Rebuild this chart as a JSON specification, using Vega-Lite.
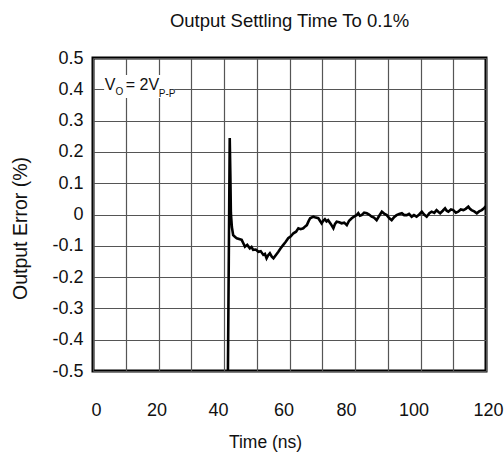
{
  "$schema": "https://vega.github.io/schema/vega-lite/v6.json",
  "autosize": "none",
  "width": 393,
  "height": 313,
  "padding": {"left": 93, "top": 58, "right": 18, "bottom": 84},
  "background": "white",
  "config": {
    "font": "Liberation Sans",
    "view": {"stroke": "black", "strokeWidth": 3},
    "axis": {
      "gridColor": "#555555",
      "gridWidth": 1.2,
      "gridOpacity": 1,
      "domain": false,
      "ticks": false,
      "tickSize": 0,
      "tickCount": 30,
      "labelFont": "Liberation Sans",
      "labelFontSize": 18,
      "labelColor": "#111111",
      "titleFont": "Liberation Sans",
      "titleFontSize": 18,
      "titleFontWeight": "normal",
      "titleColor": "#111111"
    }
  },
  "title": {
    "text": "Output Settling Time To 0.1%",
    "font": "Liberation Sans",
    "fontSize": 18.5,
    "fontWeight": "normal",
    "color": "#111111",
    "anchor": "middle",
    "offset": 19
  },
  "datasets": {
    "curve": [
      {"t": 41.2, "e": -0.5}, {"t": 41.75, "e": 0.244}, {"t": 41.95, "e": 0.12}, {"t": 42.1, "e": 0.005},
      {"t": 42.4, "e": -0.04}, {"t": 42.8, "e": -0.066}, {"t": 43.4, "e": -0.072}, {"t": 43.9, "e": -0.076},
      {"t": 44.6, "e": -0.078}, {"t": 45.4, "e": -0.081}, {"t": 45.9, "e": -0.092}, {"t": 46.4, "e": -0.103},
      {"t": 47.1, "e": -0.097}, {"t": 47.9, "e": -0.108}, {"t": 48.4, "e": -0.104}, {"t": 48.9, "e": -0.113},
      {"t": 49.7, "e": -0.112}, {"t": 50.5, "e": -0.119}, {"t": 51.2, "e": -0.117}, {"t": 52.0, "e": -0.129},
      {"t": 52.5, "e": -0.126}, {"t": 53.0, "e": -0.14}, {"t": 53.5, "e": -0.13}, {"t": 54.0, "e": -0.124},
      {"t": 54.6, "e": -0.135}, {"t": 55.1, "e": -0.14}, {"t": 55.8, "e": -0.13}, {"t": 56.6, "e": -0.119},
      {"t": 57.3, "e": -0.108}, {"t": 58.1, "e": -0.097}, {"t": 58.8, "e": -0.088}, {"t": 59.6, "e": -0.076},
      {"t": 60.4, "e": -0.07}, {"t": 61.2, "e": -0.06}, {"t": 62.0, "e": -0.055}, {"t": 62.7, "e": -0.044},
      {"t": 63.4, "e": -0.047}, {"t": 64.2, "e": -0.044}, {"t": 64.8, "e": -0.038}, {"t": 65.3, "e": -0.034},
      {"t": 65.8, "e": -0.022}, {"t": 66.3, "e": -0.012}, {"t": 67.3, "e": -0.007}, {"t": 68.0, "e": -0.01},
      {"t": 68.8, "e": -0.012}, {"t": 69.3, "e": -0.02}, {"t": 69.8, "e": -0.028}, {"t": 70.3, "e": -0.02},
      {"t": 70.8, "e": -0.015}, {"t": 71.3, "e": -0.022}, {"t": 71.8, "e": -0.018}, {"t": 72.6, "e": -0.03},
      {"t": 73.4, "e": -0.044}, {"t": 73.9, "e": -0.03}, {"t": 74.4, "e": -0.023}, {"t": 75.2, "e": -0.025},
      {"t": 75.9, "e": -0.028}, {"t": 76.7, "e": -0.026}, {"t": 77.5, "e": -0.034}, {"t": 78.2, "e": -0.02},
      {"t": 79.0, "e": -0.012}, {"t": 79.8, "e": -0.006}, {"t": 80.5, "e": -0.002}, {"t": 81.0, "e": 0.004},
      {"t": 81.5, "e": -0.004}, {"t": 82.0, "e": -0.002}, {"t": 82.8, "e": 0.006}, {"t": 83.6, "e": 0.004},
      {"t": 84.3, "e": 0.0}, {"t": 85.1, "e": -0.007}, {"t": 85.8, "e": -0.01}, {"t": 86.6, "e": -0.018},
      {"t": 87.4, "e": -0.004}, {"t": 88.2, "e": 0.009}, {"t": 88.9, "e": 0.003}, {"t": 89.7, "e": -0.002},
      {"t": 90.5, "e": -0.012}, {"t": 91.2, "e": -0.018}, {"t": 92.0, "e": -0.008}, {"t": 92.7, "e": -0.002},
      {"t": 93.5, "e": 0.002}, {"t": 94.3, "e": 0.004}, {"t": 95.0, "e": -0.002}, {"t": 95.8, "e": -0.002},
      {"t": 96.5, "e": 0.002}, {"t": 97.3, "e": -0.007}, {"t": 98.0, "e": -0.002}, {"t": 98.8, "e": -0.007},
      {"t": 99.6, "e": 0.0}, {"t": 100.4, "e": 0.009}, {"t": 101.1, "e": 0.0}, {"t": 101.9, "e": -0.007},
      {"t": 102.7, "e": 0.004}, {"t": 103.4, "e": 0.009}, {"t": 104.2, "e": 0.005}, {"t": 104.9, "e": 0.014},
      {"t": 105.5, "e": 0.008}, {"t": 106.0, "e": 0.004}, {"t": 106.8, "e": 0.012}, {"t": 107.5, "e": 0.02},
      {"t": 108.0, "e": 0.012}, {"t": 108.5, "e": 0.009}, {"t": 109.3, "e": 0.016}, {"t": 110.0, "e": 0.014},
      {"t": 110.8, "e": 0.006}, {"t": 111.5, "e": 0.009}, {"t": 112.3, "e": 0.016}, {"t": 113.1, "e": 0.014},
      {"t": 113.8, "e": 0.018}, {"t": 114.6, "e": 0.025}, {"t": 115.1, "e": 0.018}, {"t": 115.6, "e": 0.014},
      {"t": 116.4, "e": 0.01}, {"t": 117.2, "e": 0.004}, {"t": 117.9, "e": 0.01}, {"t": 118.7, "e": 0.014},
      {"t": 119.4, "e": 0.02}, {"t": 120.0, "e": 0.027}
    ],
    "box": [{"x1": 3.4, "x2": 24.8, "y1": 0.372, "y2": 0.446}],
    "big": [{"x": 3.6, "y": 0.398, "s": "V"}, {"x": 10.0, "y": 0.398, "s": "= 2V"}],
    "small": [{"x": 6.9, "y": 0.382, "s": "O"}, {"x": 20.1, "y": 0.375, "s": "P-P"}]
  },
  "layer": [
    {
      "data": {"name": "curve"},
      "mark": {"type": "line", "color": "black", "strokeWidth": 2.6, "clip": true},
      "encoding": {
        "x": {
          "field": "t", "type": "quantitative",
          "scale": {"domain": [0, 120], "nice": false, "zero": false},
          "axis": {
            "values": [0, 10, 20, 30, 40, 50, 60, 70, 80, 90, 100, 110, 120],
            "tickCount": 30,
            "labelExpr": "datum.value % 20 === 0 ? datum.label : ''",
            "labelOffset": {"expr": "datum.value == 0 ? 3 : datum.value == 20 ? -2 : datum.value == 40 ? -6 : datum.value == 60 ? -6 : datum.value == 80 ? -9 : datum.value == 100 ? -7 : 2"},
            "labelPadding": 30,
            "labelFlush": false,
            "labelOverlap": false,
            "title": "Time (ns)",
            "titleFontSize": 17.5,
            "titleX": 172,
            "titleY": 76,
            "titleBaseline": "alphabetic",
            "titleAnchor": "middle"
          }
        },
        "y": {
          "field": "e", "type": "quantitative",
          "scale": {"domain": [-0.5, 0.5], "nice": false, "zero": false},
          "axis": {
            "values": [-0.5, -0.4, -0.3, -0.2, -0.1, 0, 0.1, 0.2, 0.3, 0.4, 0.5],
            "tickCount": 30,
            "labelExpr": "replace(format(datum.value, '.1~f'), '−', '-')",
            "labelPadding": 10,
            "labelFlush": false,
            "labelOverlap": false,
            "title": "Output Error (%)",
            "titleFontSize": 19.5,
            "titleX": -67,
            "titleY": 170,
            "titleBaseline": "alphabetic",
            "titleAnchor": "middle"
          }
        }
      }
    },
    {
      "data": {"name": "box"},
      "mark": {"type": "rect", "fill": "white", "stroke": null},
      "encoding": {
        "x": {"field": "x1", "type": "quantitative"},
        "x2": {"field": "x2"},
        "y": {"field": "y1", "type": "quantitative"},
        "y2": {"field": "y2"}
      }
    },
    {
      "data": {"name": "big"},
      "mark": {"type": "text", "align": "left", "baseline": "alphabetic", "fontSize": 16, "color": "#111111", "font": "Liberation Sans"},
      "encoding": {
        "x": {"field": "x", "type": "quantitative"},
        "y": {"field": "y", "type": "quantitative"},
        "text": {"field": "s"}
      }
    },
    {
      "data": {"name": "small"},
      "mark": {"type": "text", "align": "left", "baseline": "alphabetic", "fontSize": 10, "color": "#111111", "font": "Liberation Sans"},
      "encoding": {
        "x": {"field": "x", "type": "quantitative"},
        "y": {"field": "y", "type": "quantitative"},
        "text": {"field": "s"}
      }
    }
  ]
}
